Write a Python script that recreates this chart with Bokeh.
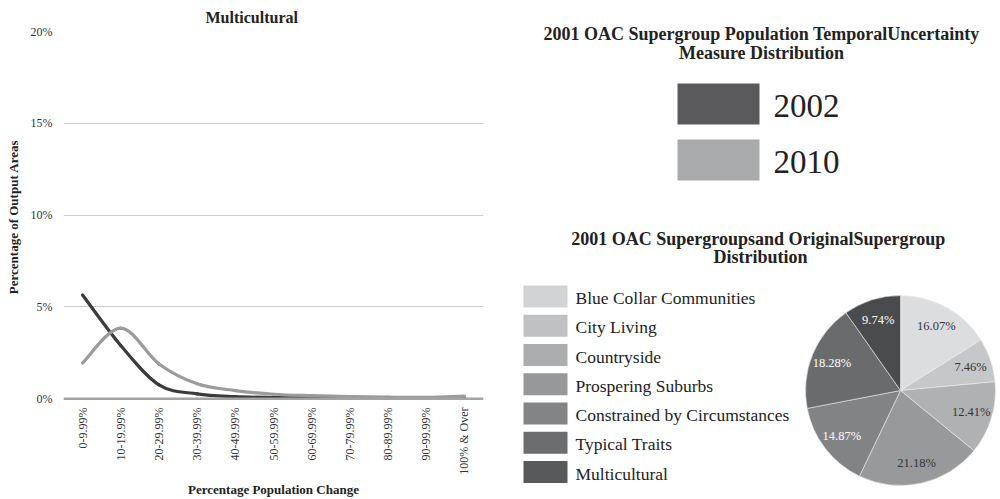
import math
from bokeh.plotting import figure
from bokeh.layouts import row
from bokeh.models import Range1d, FixedTicker, NumeralTickFormatter, Span, Label, ColumnDataSource
from bokeh.core.properties import value
from bokeh.embed import file_html
from bokeh.resources import INLINE

# ---------------- data ----------------
categories = ["0-9.99%", "10-19.99%", "20-29.99%", "30-39.99%", "40-49.99%",
              "50-59.99%", "60-69.99%", "70-79.99%", "80-89.99%", "90-99.99%", "100% & Over"]
pct_2002 = [5.65, 2.9, 0.76, 0.27, 0.12, 0.07, 0.05, 0.04, 0.03, 0.03, 0.05]
pct_2010 = [1.95, 3.85, 1.9, 0.82, 0.45, 0.25, 0.17, 0.12, 0.09, 0.08, 0.15]
y_ticks = [0, 0.05, 0.10, 0.15, 0.20]

years = ["2002", "2010"]
year_colors = ["#5a5a5c", "#a9aaac"]
line_colors = ["#3b3b3d", "#9a9b9d"]

supergroups = ["Blue Collar Communities", "City Living", "Countryside", "Prospering Suburbs",
               "Constrained by Circumstances", "Typical Traits", "Multicultural"]
shares = [16.07, 7.46, 12.41, 21.18, 14.87, 18.28, 9.74]
legend_colors = ["#d2d3d5", "#c0c1c3", "#acadaf", "#97989a", "#838486", "#6c6d6f", "#58595b"]
pie_colors = ["#dcdddf", "#c6c7c9", "#b0b1b3", "#98999b", "#828385", "#6a6b6d", "#4a4b4d"]
pie_label_colors = ["#333333", "#333333", "#333333", "#333333", "#ffffff", "#ffffff", "#ffffff"]

FONT = "Liberation Serif"
TOTAL_H = 499

# ---------------- left: line chart ----------------
p = figure(width=500, height=TOTAL_H, x_range=Range1d(-0.5, 10.5), y_range=Range1d(-0.002, 0.2),
           output_backend="svg", toolbar_location=None,
           min_border_left=63, min_border_right=17, min_border_top=31, min_border_bottom=97)
p.frame_align = False
p.outline_line_color = None
p.background_fill_color = "white"
p.border_fill_color = "white"

p.title.text = "Multicultural"
p.title.text_font = FONT
p.title.text_font_size = "16px"
p.title.text_font_style = "bold"
p.title.text_color = "#222222"
p.title.align = "left"
p.title.offset = 142
p.title.standoff = 11

xt = list(range(len(categories)))
p.xaxis.ticker = FixedTicker(ticks=xt)
p.xaxis.major_label_overrides = {i: c for i, c in enumerate(categories)}
p.xaxis.major_label_orientation = math.pi / 2
p.xaxis.major_label_text_font = FONT
p.xaxis.major_label_text_font_size = "12px"
p.xaxis.major_label_text_color = "#333333"
p.xaxis.major_label_standoff = 5
p.xaxis.major_tick_out = 0
p.xaxis.major_tick_in = 0
p.xaxis.minor_tick_out = 0
p.xaxis.minor_tick_in = 0
p.xaxis.axis_line_color = None
p.xaxis.major_tick_line_color = None
p.xaxis.minor_tick_line_color = None
p.xaxis.axis_label = "Percentage Population Change"
p.xaxis.axis_label_text_font = FONT
p.xaxis.axis_label_text_font_size = "13px"
p.xaxis.axis_label_text_font_style = "bold"
p.xaxis.axis_label_text_color = "#222222"
p.xaxis.axis_label_standoff = 4

p.yaxis.ticker = FixedTicker(ticks=y_ticks)
p.yaxis.formatter = NumeralTickFormatter(format="0%")
p.yaxis.major_label_text_font = FONT
p.yaxis.major_label_text_font_size = "12px"
p.yaxis.major_label_text_color = "#333333"
p.yaxis.major_label_standoff = 11
p.yaxis.major_tick_out = 0
p.yaxis.major_tick_in = 0
p.yaxis.minor_tick_out = 0
p.yaxis.minor_tick_in = 0
p.yaxis.axis_line_color = None
p.yaxis.major_tick_line_color = None
p.yaxis.minor_tick_line_color = None
p.yaxis.axis_label = "Percentage of Output Areas"
p.yaxis.axis_label_text_font = FONT
p.yaxis.axis_label_text_font_size = "13px"
p.yaxis.axis_label_text_font_style = "bold"
p.yaxis.axis_label_text_color = "#222222"
p.yaxis.axis_label_standoff = 7

p.xgrid.grid_line_color = None
p.ygrid.ticker = FixedTicker(ticks=y_ticks)
p.ygrid.grid_line_color = "#cdcdcd"
p.ygrid.grid_line_width = 1

p.add_layout(Span(location=0, dimension="width", line_color="#a3a3a3", line_width=2.5))


def smooth_segments(xs, ys):
    n = len(xs)
    d = dict(x0=[], y0=[], x1=[], y1=[], cx0=[], cy0=[], cx1=[], cy1=[])
    for i in range(n - 1):
        pm = max(i - 1, 0)
        pp = min(i + 2, n - 1)
        d["x0"].append(xs[i]); d["y0"].append(ys[i])
        d["x1"].append(xs[i + 1]); d["y1"].append(ys[i + 1])
        d["cx0"].append(xs[i] + (xs[i + 1] - xs[pm]) / 6.0)
        d["cy0"].append(ys[i] + (ys[i + 1] - ys[pm]) / 6.0)
        d["cx1"].append(xs[i + 1] - (xs[pp] - xs[i]) / 6.0)
        d["cy1"].append(ys[i + 1] - (ys[pp] - ys[i]) / 6.0)
    return ColumnDataSource(d)


for series, col in zip([pct_2002, pct_2010], line_colors):
    ys = [v / 100.0 for v in series]
    src = smooth_segments(xt, ys)
    p.bezier(x0="x0", y0="y0", x1="x1", y1="y1", cx0="cx0", cy0="cy0", cx1="cx1", cy1="cy1",
             source=src, line_color=col, line_width=3.2, line_cap="round")

# ---------------- right: legend + pie ----------------
W, H = 500, TOTAL_H
q = figure(width=W, height=H, x_range=Range1d(0, W), y_range=Range1d(0, H),
           x_axis_type=None, y_axis_type=None, output_backend="svg", toolbar_location=None,
           min_border=0)
q.frame_align = False
q.outline_line_color = None
q.grid.visible = False


def fx(a):
    return a - 500


def fy(a):
    return H - a


def title_label(text, x, y):
    q.add_layout(Label(x=fx(x), y=fy(y), text=text, text_font=FONT, text_font_size="18px",
                       text_font_style="bold", text_color="#222222", text_align="center",
                       text_baseline="middle"))


title_label("2001 OAC Supergroup Population TemporalUncertainty", 761, 33.5)
title_label("Measure Distribution", 761, 52.5)
title_label("2001 OAC  Supergroupsand OriginalSupergroup", 760, 238.5)
title_label("Distribution", 760, 256.7)

# year legend
yl = dict(left=[], right=[], top=[], bottom=[], color=[], tx=[], ty=[], text=[])
for i, (yr, c) in enumerate(zip(years, year_colors)):
    top = 83 + i * 56
    yl["left"].append(fx(677)); yl["right"].append(fx(759))
    yl["top"].append(fy(top)); yl["bottom"].append(fy(top + 41))
    yl["color"].append(c)
    yl["tx"].append(fx(773)); yl["ty"].append(fy(105.3 + i * 56))
    yl["text"].append(yr)
ysrc = ColumnDataSource(yl)
q.quad(left="left", right="right", top="top", bottom="bottom", fill_color="color",
       line_color=None, source=ysrc)
q.text(x="tx", y="ty", text="text", source=ysrc, text_font=value(FONT), text_font_size="33px",
       text_color="#222222", text_baseline="middle", text_align="left")

# pie legend
pl = dict(left=[], right=[], top=[], bottom=[], color=[], tx=[], ty=[], text=[])
for i, (name, c) in enumerate(zip(supergroups, legend_colors)):
    top = 285 + i * 29.25
    pl["left"].append(fx(523)); pl["right"].append(fx(567))
    pl["top"].append(fy(top)); pl["bottom"].append(fy(top + 22))
    pl["color"].append(c)
    pl["tx"].append(fx(575)); pl["ty"].append(fy(297.5 + i * 29.25))
    pl["text"].append(name)
psrc = ColumnDataSource(pl)
q.quad(left="left", right="right", top="top", bottom="bottom", fill_color="color",
       line_color=None, source=psrc)
q.text(x="tx", y="ty", text="text", source=psrc, text_font=value(FONT), text_font_size="17.5px",
       text_color="#222222", text_baseline="middle", text_align="left")

# pie
cx, cy, r, lr = fx(900), fy(390), 95, 74
total = sum(shares)
starts, ends, lx, ly, labels = [], [], [], [], []
cum = 0.0
for s in shares:
    a0 = math.pi / 2 - 2 * math.pi * cum / total
    a1 = math.pi / 2 - 2 * math.pi * (cum + s) / total
    am = (a0 + a1) / 2
    starts.append(a0); ends.append(a1)
    lx.append(cx + lr * math.cos(am)); ly.append(cy + lr * math.sin(am))
    labels.append(f"{s:.2f}%")
    cum += s
wsrc = ColumnDataSource(dict(start=starts, end=ends, color=pie_colors, lx=lx, ly=ly,
                             label=labels, lcolor=pie_label_colors))
q.wedge(x=cx, y=cy, radius=r, start_angle="start", end_angle="end", direction="clock",
        fill_color="color", line_color="#ececec", line_width=0.6, source=wsrc)
q.text(x="lx", y="ly", text="label", source=wsrc, text_font=value(FONT), text_font_size="12.5px",
       text_color="lcolor", text_align="center", text_baseline="middle")

layout = row(p, q)
open("out.html", "w").write(file_html(layout, INLINE))
